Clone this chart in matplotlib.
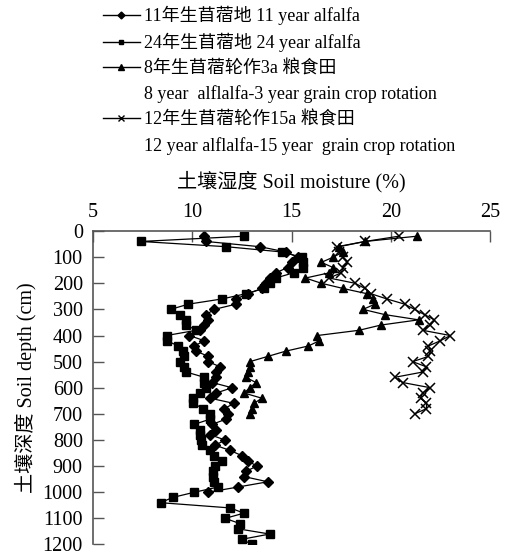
import numpy as np
import matplotlib
matplotlib.use("Agg")
import matplotlib.pyplot as plt
from matplotlib.lines import Line2D

plt.rcParams['font.family'] = ['Liberation Serif', 'Noto Sans CJK SC', 'DejaVu Sans']

# depths sampled every 20 cm
depth_11 = np.arange(20, 1001, 20)
moist_11 = [10.6, 10.7, 13.4, 14.7, 15.3, 15.0, 14.8, 14.2, 13.9, 13.7,
            13.5, 12.8, 12.2, 12.2, 11.1, 10.7, 10.8, 10.6, 10.4, 9.85,
            10.6, 10.1, 10.2, 10.8, 10.8, 11.4, 11.2, 11.2, 11.0, 12.0,
            11.2, 10.9, 12.1, 11.6, 11.8, 11.7, 11.0, 11.2, 10.9, 11.65,
            11.15, 11.9, 12.5, 12.8, 13.25, 12.7, 12.6, 13.8, 12.3, 10.8]

depth_24 = np.arange(20, 1201, 20)
moist_24 = [12.6, 7.4, 11.7, 14.5, 15.5, 15.6, 15.6, 15.1, 14.2, 13.9,
            13.6, 12.7, 11.5, 9.8, 8.9, 9.4, 9.7, 9.7, 10.2, 8.7,
            8.7, 9.3, 9.55, 9.6, 9.4, 9.6, 9.7, 10.6, 10.6, 10.7,
            10.4, 10.05, 10.05, 10.55, 10.9, 10.9, 10.1, 10.4, 10.4, 10.45,
            10.5, 10.9, 11.1, 11.5, 11.15, 11.05, 11.05, 11.1, 11.3, 10.1,
            9.0, 8.4, 11.9, 12.6, 11.65, 12.4, 12.3, 13.9, 12.5, 13.0]

depth_8r = np.arange(20, 701, 20)
moist_8r = [21.3, 18.7, 17.4, 17.6, 17.1, 16.5, 17.1, 16.9, 15.7, 16.5,
            17.6, 18.8, 19.1, 19.2, 18.6, 19.7, 21.4, 19.5, 18.4, 16.3,
            16.4, 15.85, 14.7, 13.8, 12.9, 12.9, 12.8, 12.7, 13.2, 12.9,
            12.6, 13.5, 13.1, 13.0, 12.9]

depth_12r = np.arange(20, 701, 20)
moist_12r = [20.4, 18.7, 17.3, 17.4, 17.6, 17.8, 17.6, 17.5, 16.9, 18.2,
             18.7, 19.0, 19.8, 20.7, 21.2, 21.7, 22.2, 22.0, 21.6, 23.0,
             22.5, 21.9, 22.0, 21.9, 21.1, 21.8, 21.6, 20.2, 20.6, 22.0,
             21.6, 21.5, 21.8, 21.8, 21.2]

labels = ["11年生苜蓿地 11 year alfalfa",
          "24年生苜蓿地 24 year alfalfa",
          "8年生苜蓿轮作3a 粮食田",
          "8 year  alflalfa-3 year grain crop rotation",
          "12年生苜蓿轮作15a 粮食田",
          "12 year alflalfa-15 year  grain crop rotation"]

fig = plt.figure(figsize=(5.12, 5.56), dpi=100)
ax = fig.add_axes([0.182, 0.0207, 0.775, 0.5638])

ax.plot(moist_11, depth_11, color='k', lw=0.9, marker='D', ms=5.4)
ax.plot(moist_24, depth_24, color='k', lw=0.9, marker='s', ms=5.8)
ax.plot(moist_8r, depth_8r, color='k', lw=0.9, marker='^', ms=6.3)
ax.plot(moist_12r, depth_12r, color='k', lw=0.9, marker='x', ms=6.8, mew=1.1)

ax.set_xlim(5, 25)
ax.set_ylim(1200, 0)
ax.set_xticks(np.arange(5, 26, 5))
ax.set_yticks(np.arange(0, 1201, 100))
ax.xaxis.tick_top()
ax.xaxis.set_label_position('top')
for s in ['right', 'bottom']:
    ax.spines[s].set_visible(False)
for s in ['left', 'top']:
    ax.spines[s].set_color('#555555')
    ax.spines[s].set_linewidth(1.2)
ax.tick_params(direction='in', length=8, width=1, colors='#555555',
               labelcolor='k', labelsize=14.5)
ax.tick_params(axis='y', pad=7.5)
ax.tick_params(axis='x', pad=6.5)
ax.set_xlabel("土壤湿度 Soil moisture (%)", fontsize=14.5, labelpad=11)
ax.set_ylabel("土壤深度 Soil depth (cm)", fontsize=14.5, labelpad=4)

blank = Line2D([], [], linestyle='none')
handles = [Line2D([], [], color='k', lw=1, marker='D', ms=3.5),
           Line2D([], [], color='k', lw=1, marker='s', ms=3.5),
           Line2D([], [], color='k', lw=1, marker='^', ms=4),
           blank,
           Line2D([], [], color='k', lw=1, marker='x', ms=5),
           blank]
fig.legend(handles, labels, loc='upper left', bbox_to_anchor=(0.187, 1.003),
           frameon=False, fontsize=13, handlelength=2.05, handletextpad=0.2,
           labelspacing=0.45, borderaxespad=0)

fig.savefig("out.png", dpi=100)
